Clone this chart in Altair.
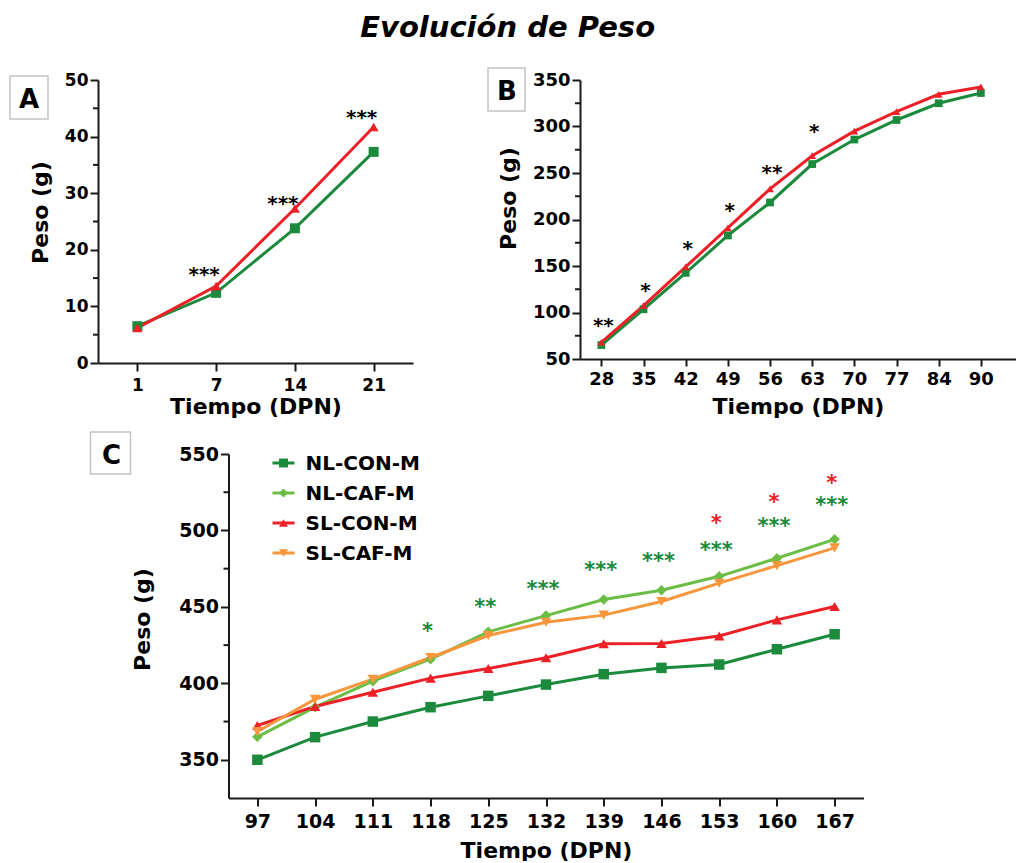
import altair as alt
import pandas as pd

FONT = "DejaVu Sans"
INK = "#1a1a1a"
DKGREEN = "#1b8a3c"
LTGREEN = "#6cbd45"
RED = "#ec2127"
ORANGE = "#f7963c"

# ---------------- data ----------------
series_names = ["NL-CON-M", "NL-CAF-M", "SL-CON-M", "SL-CAF-M"]
series_colors = [DKGREEN, LTGREEN, RED, ORANGE]
series_shapes = ["square", "diamond", "triangle-up", "triangle-down"]

# Panel A
a_days = ["1", "7", "14", "21"]
a_nl_con = [6.5, 12.4, 23.8, 37.3]
a_sl_con = [6.2, 13.6, 27.3, 41.7]
a_sig_days = ["7", "14", "21"]
a_sig_y = [16.6, 29.1, 44.2]
a_sig_txt = ["***", "***", "***"]
a_yticks = [0, 10, 20, 30, 40, 50]
a_yminor = [5, 15, 25, 35, 45]

# Panel B
b_days = ["28", "35", "42", "49", "56", "63", "70", "77", "84", "90"]
b_nl_con = [65, 103.5, 142.6, 182.8, 218.3, 259.6, 286, 307, 325, 336]
b_sl_con = [68, 107.4, 149, 191, 233, 268.6, 295, 316, 334.6, 342.5]
b_sig_days = ["28", "35", "42", "49", "56", "63"]
b_sig_y = [91.3, 129, 173.8, 215, 255.6, 300.5]
b_sig_txt = ["**", "*", "*", "*", "**", "*"]
b_yticks = [50, 100, 150, 200, 250, 300, 350]
b_yminor = [75, 125, 175, 225, 275, 325]

# Panel C
c_days = ["97", "104", "111", "118", "125", "132", "139", "146", "153", "160", "167"]
c_nl_con = [350, 364.8, 375, 384.4, 391.8, 399.2, 406, 410.1, 412.3, 422.3, 432.1]
c_nl_caf = [365, 384.4, 401.4, 415.8, 433.7, 444.3, 454.8, 460.9, 470, 481.8, 494.2]
c_sl_con = [372.4, 384.9, 394.2, 403.4, 409.7, 416.7, 425.9, 426, 431, 441.5, 450.2]
c_sl_caf = [368.5, 389.6, 402.7, 416.9, 431.3, 440, 444.6, 453.5, 465.5, 477, 488.6]
c_sig_nl_days = ["118", "125", "132", "139", "146", "153", "160", "167"]
c_sig_nl_y = [437.6, 452.8, 465, 477, 483.3, 490.5, 506.2, 519.9]
c_sig_nl_txt = ["*", "**", "***", "***", "***", "***", "***", "***"]
c_sig_sl_days = ["153", "160", "167"]
c_sig_sl_y = [508, 521.5, 534.5]
c_sig_sl_txt = ["*", "*", "*"]
c_yticks = [350, 400, 450, 500, 550]
c_yminor = [375, 425, 475, 525]


def long_df(days, names, lists):
    rows = []
    for name, vals in zip(names, lists):
        for d, v in zip(days, vals):
            rows.append({"day": d, "series": name, "value": v})
    return pd.DataFrame(rows)


def sig_df(days, ys, txt):
    return pd.DataFrame({"day": days, "value": ys, "label": txt})


one = pd.DataFrame({"k": [0]})
color_scale = alt.Scale(domain=series_names, range=series_colors)
shape_scale = alt.Scale(domain=series_names, range=series_shapes)


def panel(df, days, sigs, xscale, xfs, xtick, xlpad, xtpad,
          ydomain, yticks, yminor, yfs, ytpad, titleY,
          width, height, msize, box, letter, letter_xy, bound_pt=None, extra=None):
    X = alt.X("day:O", sort=days, scale=xscale,
              axis=alt.Axis(title="Tiempo (DPN)", labelAngle=0, labelFontSize=xfs,
                            titleFontSize=22, tickSize=xtick, labelPadding=xlpad,
                            titlePadding=xtpad))
    Y = alt.Y("value:Q", scale=alt.Scale(domain=ydomain, nice=False, zero=False),
              axis=alt.Axis(title="Peso (g)", values=yticks, labelFontSize=yfs,
                            titleFontSize=22, tickSize=8, labelPadding=2,
                            titlePadding=ytpad, titleY=titleY))
    C = alt.Color("series:N", scale=color_scale, legend=None)
    S = alt.Shape("series:N", scale=shape_scale, legend=None)

    lines = alt.Chart(df).mark_line(strokeWidth=3).encode(x=X, y=Y, color=C, detail="series:N")
    pts = alt.Chart(df).mark_point(filled=True, size=msize, opacity=1).encode(x=X, y=Y, color=C, shape=S)
    minor = alt.Chart(pd.DataFrame({"value": yminor})).mark_rule(
        color=INK, strokeWidth=2).encode(y=Y, x=alt.value(-5), x2=alt.value(0))
    layers = [minor, lines, pts]
    for sdf, col, fs, dx in sigs:
        layers.append(alt.Chart(sdf).mark_text(
            font=FONT, fontSize=fs, fontWeight="bold", color=col, baseline="middle",
            align="center", dy=fs * 0.28, dx=dx).encode(x=X, y=Y, text="label:N"))
    bx0, bx1, by0, by1 = box
    layers.append(alt.Chart(one).mark_rect(fill="white", stroke="#c4c4c4", strokeWidth=1.5).encode(
        x=alt.value(bx0), x2=alt.value(bx1), y=alt.value(by0), y2=alt.value(by1)))
    layers.append(alt.Chart(one).mark_text(
        text=letter, font=FONT, fontSize=26, fontWeight="bold", color="black",
        align="center", baseline="middle", dy=2).encode(
        x=alt.value(letter_xy[0]), y=alt.value(letter_xy[1])))
    if bound_pt is not None:
        # white, invisible helper that sets where the panel's bounds end
        layers.append(alt.Chart(one).mark_rect(fill="white").encode(
            x=alt.value(bound_pt[0]), x2=alt.value(bound_pt[0] + 1),
            y=alt.value(bound_pt[1]), y2=alt.value(bound_pt[1] + 1)))
    main = alt.layer(*layers)
    if extra is not None:
        main = alt.layer(main, extra).resolve_scale(y="independent")
    return main.properties(width=width, height=height)


# ---------------- panel A ----------------
dfA = long_df(a_days, ["NL-CON-M", "SL-CON-M"], [a_nl_con, a_sl_con])
chartA = panel(
    dfA, a_days, [(sig_df(a_sig_days, a_sig_y, a_sig_txt), "black", 20, -12)],
    alt.Scale(type="point", padding=0.5), 17, 8, 6, 3,
    [0, 50], a_yticks, a_yminor, 17, 12, 132,
    315, 283, 100, (-88, -50, -4, 39), "A", (-69, 18))

# ---------------- panel B ----------------
dfB = long_df(b_days, ["NL-CON-M", "SL-CON-M"], [b_nl_con, b_sl_con])
chartB = panel(
    dfB, b_days, [(sig_df(b_sig_days, b_sig_y, b_sig_txt), "black", 20, 2)],
    alt.Scale(type="point", padding=0.67, align=0.378), 18, 7, 4, 8,
    [50, 350], b_yticks, b_yminor, 18, 12, 118,
    436, 279, 60, (-92, -55, -12, 31), "B", (-73, 10))

# ---------------- panel C ----------------
dfC = long_df(c_days, series_names, [c_nl_con, c_nl_caf, c_sl_con, c_sl_caf])
dfLeg = pd.DataFrame({"series": series_names})
LY = alt.Y("series:N", sort=series_names,
           scale=alt.Scale(type="point", range=[9, 99], padding=0), axis=None)
LC = alt.Color("series:N", scale=color_scale, legend=None)
LS = alt.Shape("series:N", scale=shape_scale, legend=None)
legend = alt.layer(
    alt.Chart(dfLeg).mark_rule(strokeWidth=3).encode(
        x=alt.value(44), x2=alt.value(66), y=LY, color=LC),
    alt.Chart(dfLeg).mark_point(filled=True, size=80, opacity=1).encode(
        x=alt.value(55), y=LY, color=LC, shape=LS),
    alt.Chart(dfLeg).mark_text(font=FONT, fontSize=20, fontWeight="bold", color="black",
                               align="left", baseline="middle", dy=1).encode(
        x=alt.value(77), y=LY, text="series:N"),
)
chartC = panel(
    dfC, c_days,
    [(sig_df(c_sig_nl_days, c_sig_nl_y, c_sig_nl_txt), DKGREEN, 21, -3),
     (sig_df(c_sig_sl_days, c_sig_sl_y, c_sig_sl_txt), RED, 21, -3)],
    alt.Scale(type="point", padding=0.5), 19, 8, 6, 9,
    [325, 550], c_yticks, c_yminor, 19, 24, 165,
    635, 344, 110, (-138, -98, -22, 20), "C", (-117, 0), bound_pt=(656, 0), extra=legend)

chart = alt.vconcat(
    alt.hconcat(chartA, chartB, spacing=74),
    chartC,
    spacing=14,
    center=True,
).properties(
    title=alt.Title("Evolución de Peso", font=FONT, fontSize=29, fontWeight="bold",
                    fontStyle="italic", anchor="middle", offset=24, dx=-5, color="black"),
    padding={"left": 9, "top": 14, "right": 0, "bottom": 0},
).configure_view(stroke=None).configure_axis(
    labelFont=FONT, titleFont=FONT, labelFontWeight="bold", titleFontWeight="bold",
    labelColor="black", titleColor="black", domainColor=INK, tickColor=INK,
    domainWidth=2, tickWidth=2, grid=False,
)

chart.save("out.html", embed_options={"renderer": "svg", "actions": False})
